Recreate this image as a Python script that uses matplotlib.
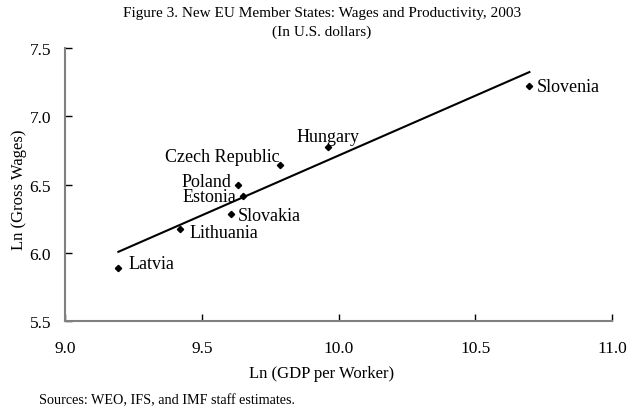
import matplotlib
matplotlib.use('Agg')
import matplotlib.pyplot as plt
import numpy as np

plt.rcParams['font.family'] = ['Liberation Serif', 'DejaVu Serif']

# Ln(GDP per worker) vs Ln(gross wages), 2003
countries = ['Latvia', 'Lithuania', 'Slovakia', 'Estonia', 'Poland',
             'Czech Republic', 'Hungary', 'Slovenia']
ln_gdp = [9.195, 9.421, 9.606, 9.650, 9.634, 9.786, 9.961, 10.698]
ln_wage = [5.890, 6.171, 6.285, 6.419, 6.500, 6.644, 6.774, 7.220]

# label offsets in points (dx, dy, ha)
label_pos = {
    'Latvia': (7, 3, 'left'),
    'Lithuania': (7, -2, 'left'),
    'Slovakia': (5, -1, 'left'),
    'Estonia': (-5, -1, 'right'),
    'Poland': (-5, 2, 'right'),
    'Czech Republic': (0, 6, 'right'),
    'Hungary': (0, 8, 'center'),
    'Slovenia': (5, 0, 'left'),
}

fig = plt.figure(figsize=(6.35, 4.14), dpi=100)
ax = fig.add_axes([0.1024, 0.2222, 0.8614, 0.6594])

ax.plot(ln_gdp, ln_wage, 'D', color='black', markersize=3.2, zorder=3)

# linear trend
b, a = np.polyfit(ln_gdp, ln_wage, 1)
xx = np.array([min(ln_gdp), max(ln_gdp)])
ax.plot(xx, a + b * xx, color='black', linewidth=1.5)

for name, x, y in zip(countries, ln_gdp, ln_wage):
    dx, dy, ha = label_pos[name]
    ax.annotate(name, (x, y), xytext=(dx, dy), textcoords='offset points',
                ha=ha, va='center', fontsize=13)

ax.set_xlim(9.0, 11.0)
ax.set_ylim(5.5, 7.5)
ax.set_xticks([9.0, 9.5, 10.0, 10.5, 11.0])
ax.set_yticks([5.5, 6.0, 6.5, 7.0, 7.5])
ax.xaxis.set_major_formatter(matplotlib.ticker.FormatStrFormatter('%.1f'))
ax.yaxis.set_major_formatter(matplotlib.ticker.FormatStrFormatter('%.1f'))
ax.tick_params(direction='in', length=5, width=1, labelsize=12.5, color='black')
ax.tick_params(axis='x', pad=14)
ax.tick_params(axis='y', pad=10)
for s in ['top', 'right']:
    ax.spines[s].set_visible(False)
for s in ['left', 'bottom']:
    ax.spines[s].set_color('#808080')
    ax.spines[s].set_linewidth(1.5)

fig.text(0.507, 0.968, 'Figure 3. New EU Member States: Wages and Productivity, 2003',
         ha='center', va='center', fontsize=11)
fig.text(0.507, 0.922, '(In U.S. dollars)', ha='center', va='center', fontsize=11)
fig.text(0.507, 0.097, 'Ln (GDP per Worker)', ha='center', va='center', fontsize=12)
fig.text(0.03, 0.541, 'Ln (Gross Wages)', ha='center', va='center',
         rotation=90, fontsize=12)
fig.text(0.061, 0.031, 'Sources: WEO, IFS, and IMF staff estimates.',
         ha='left', va='center', fontsize=10.2)

fig.savefig('out.png', dpi=100)
